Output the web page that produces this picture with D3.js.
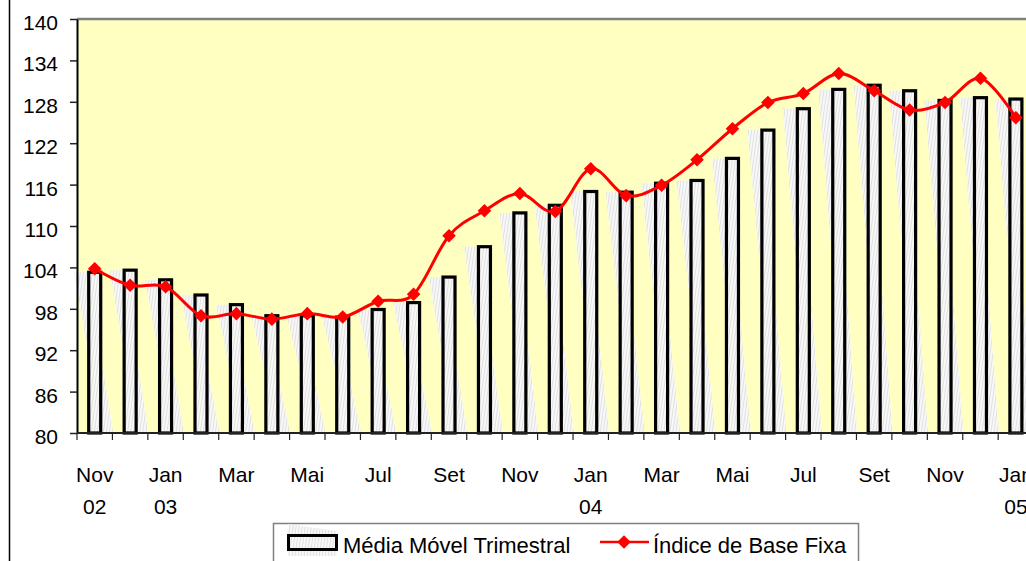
<!DOCTYPE html>
<html>
<head>
<meta charset="utf-8">
<script src="https://cdn.jsdelivr.net/npm/d3@7"></script>
<style>
  body { margin: 0; background: #fff; }
  svg { display: block; font-family: "Liberation Sans", Arial, sans-serif; }
</style>
</head>
<body>
<div id="app"></div>
<script>
const categories = ["Nov/02","Dez/02","Jan/03","Fev/03","Mar/03","Abr/03","Mai/03","Jun/03","Jul/03","Ago/03","Set/03","Out/03","Nov/03","Dez/03",
  "Jan/04","Fev/04","Mar/04","Abr/04","Mai/04","Jun/04","Jul/04","Ago/04","Set/04","Out/04","Nov/04","Dez/04","Jan/05"]
const mediaMovel = [103.3, 103.6, 102.2, 100.0, 98.6, 97.0, 97.0, 96.8, 97.9, 98.9, 102.6, 107.0, 111.9, 113.0,
  115.0, 114.9, 116.2, 116.6, 119.8, 123.9, 127.0, 129.8, 130.4, 129.6, 128.2, 128.6, 128.4]
const indiceBase = [103.8, 101.4, 101.2, 97.0, 97.3, 96.5, 97.3, 96.8, 99.1, 100.1, 108.6, 112.2, 114.7, 112.1,
  118.3, 114.4, 115.9, 119.6, 124.1, 127.9, 129.2, 132.1, 129.6, 126.8, 127.9, 131.4, 125.7]
const monthTicks = ["Nov","","Jan","","Mar","","Mai","","Jul","","Set","","Nov","","Jan","","Mar","","Mai","","Jul","","Set","","Nov","","Jan"]
const yearTicks = ["02","","03","","","","","","","","","","","","04","","","","","","","","","","","","05"]
const yTicks = [80, 86, 92, 98, 104, 110, 116, 122, 128, 134, 140]
const seriesNames = ["Média Móvel Trimestral", "Índice de Base Fixa"]

const width = 1026, height = 561
const plot = { left: 77, top: 19, bottom: 433, step: 35.43 }
const axisFont = 21, legendFont = 22

const svg = d3.select('#app').append('svg')
  .attr('width', width)
  .attr('height', height)

// hatch texture used for bars and their ghost shapes
const defs = svg.append('defs')
const pat = defs.append('pattern')
  .attr('id', 'hatch')
  .attr('patternUnits', 'userSpaceOnUse')
  .attr('width', 3).attr('height', 10)
  .attr('patternTransform', 'rotate(8)')
pat.append('rect').attr('width', 3).attr('height', 10).attr('fill', '#f8f8f8')
pat.append('line').attr('x1', 0.5).attr('x2', 0.5).attr('y1', 0).attr('y2', 10)
  .attr('stroke', '#e0e0e0').attr('stroke-width', 1)

const x = d3.scaleBand()
  .domain(categories)
  .range([plot.left, plot.left + plot.step * categories.length])
  .padding(0)

const y = d3.scaleLinear()
  .domain([80, 140])
  .range([plot.bottom, plot.top])

const cx = d => x(d) + x.bandwidth() / 2
const barW = 12

// outer chart border (left)
svg.append('line')
  .attr('x1', 9.5).attr('x2', 9.5).attr('y1', 0).attr('y2', height)
  .attr('stroke', '#000').attr('stroke-width', 1.5)

// plot area
svg.append('rect')
  .attr('x', plot.left).attr('y', plot.top)
  .attr('width', x.range()[1] - plot.left)
  .attr('height', plot.bottom - plot.top)
  .attr('fill', '#FFFFC2')

svg.append('line')
  .attr('x1', plot.left).attr('x2', width)
  .attr('y1', plot.top).attr('y2', plot.top)
  .attr('stroke', '#808080').attr('stroke-width', 2.5)

// ghost shapes behind bars
svg.append('g').selectAll('polygon')
  .data(categories)
  .join('polygon')
  .attr('points', (d, i) => {
    const L = cx(d) - barW / 2 - 1.5, R = cx(d) + barW / 2 + 1.5
    const top = y(mediaMovel[i]), bot = y(80)
    return [[L - 13, top], [L, top], [R + 11, bot], [R, bot]].join(' ')
  })
  .attr('fill', 'url(#hatch)')

// bars
svg.append('g').selectAll('rect')
  .data(categories)
  .join('rect')
  .attr('x', d => cx(d) - barW / 2)
  .attr('y', (d, i) => y(mediaMovel[i]))
  .attr('width', barW)
  .attr('height', (d, i) => y(80) - y(mediaMovel[i]))
  .attr('fill', 'url(#hatch)')
  .attr('stroke', '#000')
  .attr('stroke-width', 3.2)

// y axis
const yAxis = svg.append('g')
  .attr('transform', `translate(${plot.left},0)`)
  .call(d3.axisLeft(y).tickValues(yTicks).tickSize(7).tickPadding(12).tickSizeOuter(0))
yAxis.select('.domain').attr('stroke', '#000').attr('stroke-width', 2)
yAxis.selectAll('.tick line').attr('stroke', '#222').attr('stroke-width', 1.5)
yAxis.selectAll('.tick text')
  .attr('font-size', axisFont)
  .attr('font-family', '"Liberation Sans", Arial, sans-serif')
  .attr('fill', '#000')
  .attr('dy', '0.5em')

// x axis
svg.append('line')
  .attr('x1', plot.left).attr('x2', width)
  .attr('y1', plot.bottom).attr('y2', plot.bottom)
  .attr('stroke', '#222').attr('stroke-width', 2)

svg.append('g').selectAll('line')
  .data(categories)
  .join('line')
  .attr('x1', d => x(d)).attr('x2', d => x(d))
  .attr('y1', plot.bottom).attr('y2', plot.bottom + 7)
  .attr('stroke', '#222').attr('stroke-width', 1.2)

svg.append('g').selectAll('text')
  .data(categories)
  .join('text')
  .attr('x', d => cx(d))
  .attr('y', 482)
  .attr('text-anchor', 'middle')
  .attr('font-size', axisFont)
  .text((d, i) => monthTicks[i])

svg.append('g').selectAll('text')
  .data(categories)
  .join('text')
  .attr('x', d => cx(d))
  .attr('y', 514)
  .attr('text-anchor', 'middle')
  .attr('font-size', axisFont)
  .text((d, i) => yearTicks[i])

// line series
const line = d3.line()
  .x(d => cx(d))
  .y((d, i) => y(indiceBase[i]))
  .curve(d3.curveCatmullRom.alpha(0))

svg.append('path')
  .datum(categories)
  .attr('d', line)
  .attr('fill', 'none')
  .attr('stroke', '#FF0000')
  .attr('stroke-width', 3)

const diamond = d3.symbol(d3.symbolSquare, 92)
svg.append('g').selectAll('path')
  .data(categories)
  .join('path')
  .attr('d', diamond)
  .attr('transform', (d, i) => `translate(${cx(d)},${y(indiceBase[i])}) rotate(45)`)
  .attr('fill', '#FF0000')

// legend
const legend = svg.append('g')
legend.append('rect')
  .attr('x', 273.5).attr('y', 523.5)
  .attr('width', 585).attr('height', 60)
  .attr('fill', '#fff')
  .attr('stroke', '#808080').attr('stroke-width', 1.5)

legend.append('polygon')
  .attr('points', [[288, 524], [337, 531], [337, 556], [288, 556]].join(' '))
  .attr('fill', 'url(#hatch)')
legend.append('rect')
  .attr('x', 288.5).attr('y', 535.5)
  .attr('width', 48).attr('height', 14)
  .attr('fill', 'none')
  .attr('stroke', '#000').attr('stroke-width', 3)
legend.append('text')
  .attr('x', 343).attr('y', 553)
  .attr('font-size', legendFont)
  .text(seriesNames[0])

legend.append('line')
  .attr('x1', 600).attr('x2', 649).attr('y1', 542).attr('y2', 542)
  .attr('stroke', '#FF0000').attr('stroke-width', 2.5)
legend.append('path')
  .attr('d', diamond)
  .attr('transform', 'translate(624,542) rotate(45)')
  .attr('fill', '#FF0000')
legend.append('text')
  .attr('x', 653).attr('y', 553)
  .attr('font-size', legendFont)
  .text(seriesNames[1])
</script>
</body>
</html>
